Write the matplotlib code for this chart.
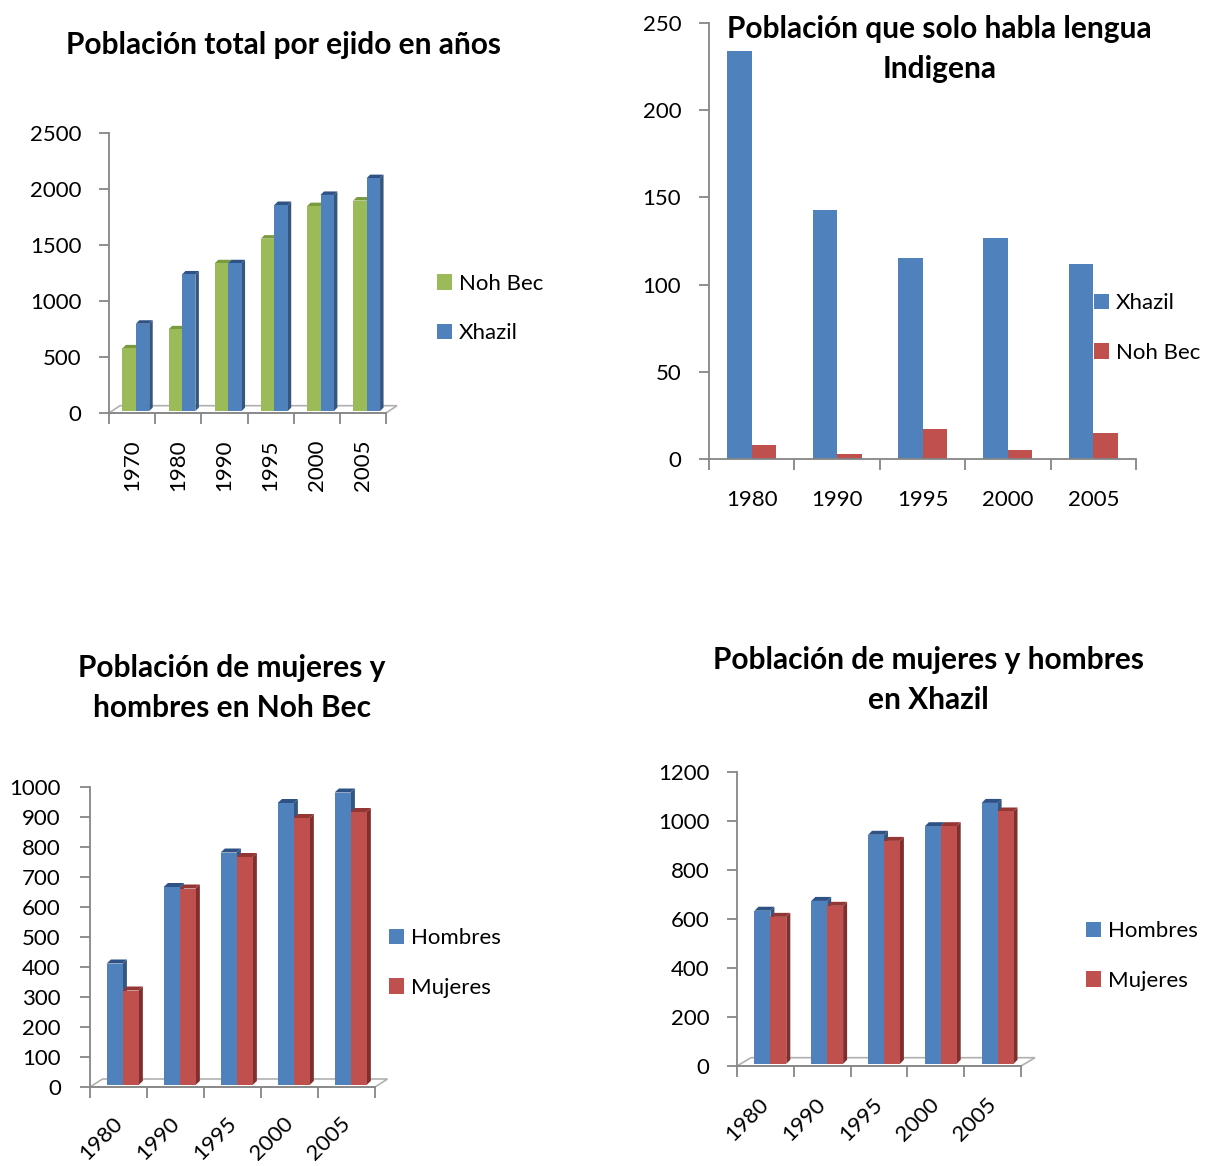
import numpy as np
import matplotlib
matplotlib.use("Agg")
import matplotlib.pyplot as plt
from matplotlib.patches import Polygon

plt.rcParams['font.family'] = ['Lato', 'DejaVu Sans']

# --- data ---
years_total = ['1970', '1980', '1990', '1995', '2000', '2005']
total_nohbec = [560, 730, 1320, 1540, 1830, 1880]
total_xhazil = [780, 1220, 1320, 1840, 1930, 2080]

years_lengua = ['1980', '1990', '1995', '2000', '2005']
lengua_xhazil = [234, 143, 115, 127, 112]
lengua_nohbec = [8, 3, 17, 5, 15]

years_sexo = ['1980', '1990', '1995', '2000', '2005']
nohbec_hombres = [405, 660, 775, 940, 975]
nohbec_mujeres = [315, 655, 760, 890, 910]
xhazil_hombres = [625, 665, 935, 970, 1065]
xhazil_mujeres = [600, 645, 910, 970, 1030]

BLUE = ('#4F81BD', '#34567F', '#2E5286')
RED = ('#C0504D', '#7F302E', '#943634')
GREEN = ('#9BBB59', '#6E8A3A', '#7A9A3E')
AXC = '#868686'

W, H = 1212, 1166
fig = plt.figure(figsize=(W / 100, H / 100), dpi=100)


def place(l, t, r, b):
    return fig.add_axes([l / W, 1 - b / H, (r - l) / W, (b - t) / H])


def px2data(ax, dpx, dpy):
    bb = ax.get_window_extent()
    x0, x1 = ax.get_xlim()
    y0, y1 = ax.get_ylim()
    return dpx * (x1 - x0) / bb.width, dpy * (y1 - y0) / bb.height


def style(ax, n, ymax, ystep, labels, ypad, xpad, rot, lshift=0.0, fs=16):
    ax.set_xlim(-0.5, n - 0.5)
    ax.set_ylim(0, ymax)
    for s in ['top', 'right']:
        ax.spines[s].set_visible(False)
    for s in ['left', 'bottom']:
        ax.spines[s].set_color(AXC)
        ax.spines[s].set_linewidth(1.3)
    ax.set_yticks(np.arange(0, ymax + 1, ystep))
    ax.tick_params(axis='y', colors=AXC, labelcolor='black', length=7,
                   width=1.3, pad=ypad, labelsize=fs)
    ax.set_xticks(np.arange(n + 1) - 0.5, labels=[''] * (n + 1))
    ax.tick_params(axis='x', which='major', colors=AXC, length=8, width=1.3)
    ax.set_xticks(np.arange(n) + lshift, labels=labels, minor=True)
    ax.tick_params(axis='x', which='minor', length=0, pad=xpad,
                   labelsize=fs, labelcolor='black')
    if rot == 90:
        plt.setp(ax.get_xticklabels(minor=True), rotation=90, va='top')
    elif rot == 45:
        plt.setp(ax.get_xticklabels(minor=True), rotation=45, ha='right',
                 rotation_mode='anchor')


def floor3d(ax, fpx, fpy):
    fdx, fdy = px2data(ax, fpx, fpy)
    x0, x1 = ax.get_xlim()
    ax.add_patch(Polygon([(x0, 0), (x1, 0), (x1 + fdx, fdy), (x0 + fdx, fdy)],
                         closed=True, facecolor='white', edgecolor='#B0B0B0',
                         linewidth=1.2, clip_on=False, zorder=1))


def bars3d(ax, series, cols, names, width, fpx, fpy, bpx, bpy):
    fdx, fdy = px2data(ax, fpx, fpy)
    bdx, bdy = px2data(ax, bpx, bpy)
    ox, oy = (fdx - bdx) / 2, (fdy - bdy) / 2
    k = len(series)
    x = np.arange(len(series[0]))
    for i in range(len(x)):
        for j in range(k):
            h = series[j][i]
            front, side, top = cols[j]
            xl = x[i] + ox + (j - k / 2) * width
            xr = xl + width
            yb, yt = oy, oy + h
            ax.add_patch(Polygon([(xr, yb), (xr + bdx, yb + bdy), (xr + bdx, yt + bdy), (xr, yt)],
                                 closed=True, facecolor=side, edgecolor='none', zorder=2))
            ax.add_patch(Polygon([(xl, yt), (xl + bdx, yt + bdy), (xr + bdx, yt + bdy), (xr, yt)],
                                 closed=True, facecolor=top, edgecolor='none', zorder=2))
            ax.bar(xl, h, width=width, bottom=yb, align='edge', color=front,
                   label=names[j] if i == 0 else None, zorder=3)


def legend(ax, x, y, fs=16):
    ax.legend(loc='center left', bbox_to_anchor=(x / W, 1 - y / H),
              bbox_transform=fig.transFigure, frameon=False, fontsize=fs,
              borderpad=0, borderaxespad=0, handlelength=0.68,
              handleheight=0.68, handletextpad=0.3, labelspacing=1.32)


def title(x, y, s):
    fig.text(x / W, 1 - y / H, s, ha='center', va='center', fontsize=21.5,
             fontweight='bold', linespacing=1.55)


# --- chart 1: total population ---
ax1 = place(109, 133, 386, 413)
style(ax1, 6, 2500, 500, years_total, ypad=13, xpad=19, rot=90)
floor3d(ax1, 11, 7.3)
bars3d(ax1, [total_nohbec, total_xhazil], [GREEN, BLUE], ['Noh Bec', 'Xhazil'],
       0.29, 11, 7.3, 3.5, 3.5)
legend(ax1, 437, 308.5)
title(283, 45, 'Población total por ejido en años')

# --- chart 2: indigenous language only ---
ax2 = place(709, 23, 1136, 459)
style(ax2, 5, 250, 50, years_lengua, ypad=13, xpad=22, rot=0)
x2 = np.arange(len(years_lengua))
ax2.bar(x2 - 0.143, lengua_xhazil, width=0.286, color=BLUE[0], label='Xhazil', zorder=2)
ax2.bar(x2 + 0.143, lengua_nohbec, width=0.286, color=RED[0], label='Noh Bec', zorder=2)
legend(ax2, 1094, 328)
title(939.5, 49, 'Población que solo habla lengua\nIndigena')

# --- chart 3: Noh Bec by sex ---
ax3 = place(90, 787, 375, 1087)
style(ax3, 5, 1000, 100, years_sexo, ypad=14, xpad=19, rot=45, lshift=-0.11)
floor3d(ax3, 12.5, 8)
bars3d(ax3, [nohbec_hombres, nohbec_mujeres], [BLUE, RED], ['Hombres', 'Mujeres'],
       0.28, 12.5, 8, 4.3, 4)
legend(ax3, 389, 963)
title(232, 688, 'Población de mujeres y\nhombres en Noh Bec')

# --- chart 4: Xhazil by sex ---
ax4 = place(737, 772, 1021, 1066)
style(ax4, 5, 1200, 200, years_sexo, ypad=13, xpad=20, rot=45, lshift=-0.12)
floor3d(ax4, 14, 8.3)
bars3d(ax4, [xhazil_hombres, xhazil_mujeres], [BLUE, RED], ['Hombres', 'Mujeres'],
       0.28, 14, 8.3, 4, 4)
legend(ax4, 1086, 956)
title(928, 680, 'Población de mujeres y hombres\nen Xhazil')

fig.savefig('out.png', dpi=100)
